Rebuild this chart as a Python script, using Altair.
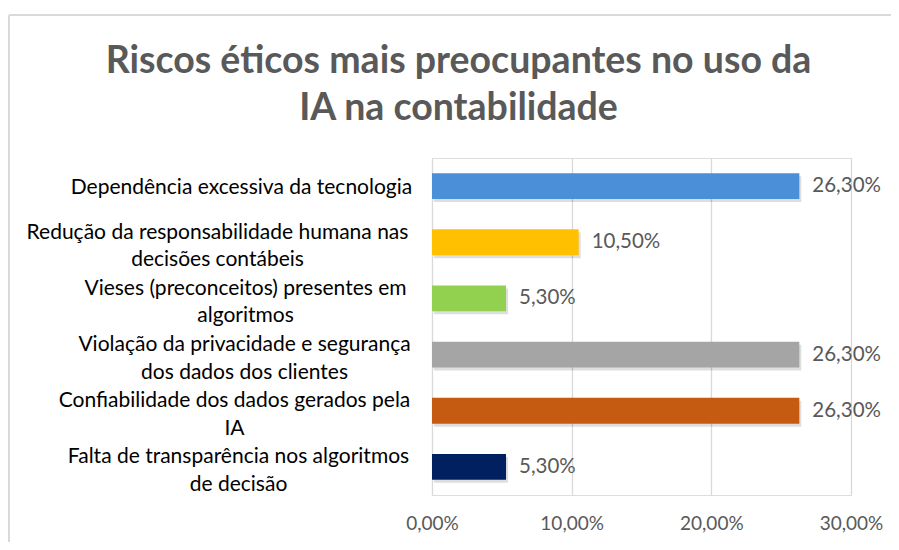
import altair as alt
import pandas as pd

title_lines = ["Riscos éticos mais preocupantes no uso da", "IA na contabilidade"]
categories = [
    "Dependência excessiva da tecnologia",
    "Redução da responsabilidade humana nas\ndecisões contábeis",
    "Vieses (preconceitos) presentes em\nalgoritmos",
    "Violação da privacidade e segurança\ndos dados dos clientes",
    "Confiabilidade dos dados gerados pela\nIA",
    "Falta de transparência nos algoritmos\nde decisão",
]
values = [0.263, 0.105, 0.053, 0.263, 0.263, 0.053]
bar_colors = ["#4A8FD8", "#FFC000", "#92D050", "#A5A5A5", "#C55A11", "#002060"]
x_ticks = [0.0, 0.1, 0.2, 0.3]

df = pd.DataFrame({"cat": categories, "value": values})

FONT = "Lato"

# per-label padding so that multi-line labels are centred like the original
pad_rules = [
    ("Dependência", 191),
    ("Redução", 215),
    ("Vieses", 187),
    ("Violação", 188),
    ("Confiabilidade", 198),
    ("Falta", 194),
]
label_padding = {
    "condition": [
        {"test": f"indexof(datum.value, '{k}') >= 0", "value": v} for k, v in pad_rules
    ],
    "value": 190,
}
label_offset = {
    "condition": {"test": "indexof(datum.value, '\\n') >= 0", "value": -9.5},
    "value": 2,
}

y_enc = alt.Y(
    "cat:N",
    sort=categories,
    title=None,
    scale=alt.Scale(paddingInner=0.54, paddingOuter=0.27),
    axis=alt.Axis(
        domain=False,
        ticks=False,
        grid=False,
        labelExpr="split(datum.label, '\\n')",
        labelAlign="center",
        labelBaseline="middle",
        labelPadding=label_padding,
        labelOffset=label_offset,
        labelFont=FONT,
        labelFontSize=21,
        labelColor="#000000",
        labelLineHeight=27.5,
        labelLimit=0,
    ),
)

x_enc = alt.X(
    "value:Q",
    title=None,
    scale=alt.Scale(domain=[0, 0.3], nice=False, zero=True),
    axis=alt.Axis(
        values=x_ticks,
        domain=False,
        ticks=False,
        grid=True,
        gridColor="#D9D9D9",
        gridWidth=1.3,
        labelExpr="replace(format(datum.value, '.2%'), '.', ',')",
        labelFont=FONT,
        labelFontSize=19,
        labelColor="#595959",
        labelPadding=19,
        labelFlush=False,
    ),
)

base = alt.Chart(df)

shadow = base.mark_bar(color="#000000", opacity=0.13, xOffset=2, yOffset=3).encode(
    x=x_enc, y=y_enc
)

bars = base.mark_bar().encode(
    x=x_enc,
    y=y_enc,
    color=alt.Color("cat:N", sort=categories, scale=alt.Scale(domain=categories, range=bar_colors), legend=None),
)

labels = base.transform_calculate(
    lbl="replace(format(datum.value, '.2%'), '.', ',')"
).mark_text(align="left", baseline="middle", dx=13, font=FONT, fontSize=20.5, color="#595959").encode(
    x=x_enc, y=y_enc, text="lbl:N"
)

frame_top = alt.Chart(pd.DataFrame({"a": [0]})).mark_rule(color="#D9D9D9", strokeWidth=2).encode(
    x=alt.value(-423), x2=alt.value(480), y=alt.value(-143)
)
frame_left = alt.Chart(pd.DataFrame({"a": [0]})).mark_rule(color="#D9D9D9", strokeWidth=2).encode(
    x=alt.value(-423), y=alt.value(-143), y2=alt.value(390)
)

chart = alt.layer(frame_top, frame_left, shadow, bars, labels).properties(
    width=419,
    height=337,
    title=alt.TitleParams(
        text=title_lines,
        font=FONT,
        fontSize=37.5,
        fontWeight="bold",
        color="#595959",
        anchor="middle",
        dx=-183,
        offset=36,
        dy=149,
        lineHeight=47,
    ),
    autosize=alt.AutoSizeParams(type="none"),
    padding={"left": 424, "top": 150, "right": 40, "bottom": 47},
).configure_view(stroke=None).configure(background="white")

chart.save("out.html", embed_options={"renderer": "svg", "actions": False})
